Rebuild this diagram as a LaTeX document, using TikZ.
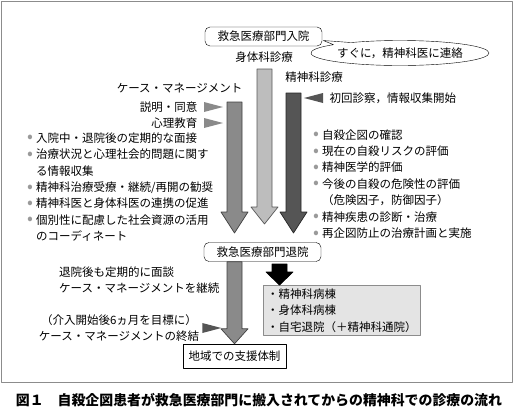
\documentclass[tikz,border=0pt]{standalone}
\usepackage{fontspec}
\setmainfont{Noto Sans CJK JP}
\usetikzlibrary{calc, shapes.callouts}

\definecolor{midgray}{HTML}{8A8A8A}
\definecolor{palegray}{HTML}{BDBDBD}
\definecolor{deepgray}{HTML}{555555}
\definecolor{boxgray}{HTML}{E4E4E4}
\definecolor{framegray}{HTML}{8C8C8C}
\definecolor{bulgray}{HTML}{9A9A9A}

\newcommand{\bul}{\makebox[9pt][l]{\textcolor{bulgray}{\raisebox{-0.6pt}{\scalebox{1.5}{•}}}}}
\newcommand{\nob}{\hspace*{9pt}}

% fat vertical arrow: style, start, tip, head length
\newcommand{\fatarrow}[4]{%
  \draw[#1] let \p1=(#2), \p2=(#3) in
    (\x1-7.5pt,\y1) -- (\x1-7.5pt,\y2+#4) -- (\x1-13.5pt,\y2+#4) -- (\x1,\y2)
    -- (\x1+13.5pt,\y2+#4) -- (\x1+7.5pt,\y2+#4) -- (\x1+7.5pt,\y1) -- cycle;}
% small pointers next to a label
\newcommand{\tipright}[2]{\fill[#1] ($(#2.east)+(3,-5)$) -- ++(19,5) -- ++(-19,5) -- cycle;}
\newcommand{\tipleft}[2]{\fill[#1] ($(#2.west)+(-3,-5)$) -- ++(-19,5) -- ++(19,5) -- cycle;}

\begin{document}
\begin{tikzpicture}[line cap=round,line join=round,x=1pt,y=-1pt,
    every node/.style={font=\fontsize{11.5}{16.4}\selectfont},
    roundbox/.style={draw=black, rounded corners=5pt, minimum width=117pt, minimum height=19pt, inner sep=0pt},
    plainbox/.style={draw=black, minimum width=103pt, minimum height=24pt, inner sep=0pt},
    graybox/.style={draw=framegray, fill=boxgray, align=left, minimum width=157pt, minimum height=50pt, inner xsep=4pt, text width=149pt},
    bubble/.style={ellipse callout, draw=black, fill=white, minimum width=176pt, minimum height=25pt, inner sep=0pt},
    list/.style={align=left, inner sep=0pt},
    midarrow/.style={draw=black!75, fill=midgray, line width=0.7pt},
    palearrow/.style={draw=black!65, fill=palegray, line width=0.7pt},
    deeparrow/.style={draw=black!85, fill=deepgray, line width=0.7pt},
    blackarrow/.style={draw=black, fill=black, line width=0.7pt},
    ptrmid/.style={fill=midgray},
    ptrdeep/.style={fill=deepgray}]

    \useasboundingbox (0,0) rectangle (515,416);
    % outer frame
    \draw[framegray, line width=0.8pt] (1,1) rectangle (512,382);

    % admission and the phone call
    \node[roundbox] (adm) at (263.5,36.5) {救急医療部門入院};
    \node (phys) at (264,57) {身体科診療};
    \node[bubble, callout absolute pointer={($(adm.east)+(1,4)$)}] (call) at (400,53) {すぐに，精神科医に連絡};

    % three streams
    \node[anchor=east] (cm) at (246,88) {ケース・マネージメント};
    \node (psy) at (314,77) {精神科診療};
    \node[anchor=east] (expl) at (201,107) {説明・同意};
    \node[anchor=east] (edu) at (201,123) {心理教育};
    \node[anchor=west] (first) at (326,98) {初回診察，情報収集開始};

    \coordinate (cmtop) at (234.5,102);
    \coordinate (cmtip) at (234.5,233);
    \coordinate (phtop) at (264.5,69);
    \coordinate (phtip) at (264.5,224);
    \coordinate (pstop) at (293.5,93);
    \coordinate (pstip) at (293.5,233);
    \fatarrow{midarrow}{cmtop}{cmtip}{21pt}
    \fatarrow{palearrow}{phtop}{phtip}{17pt}
    \fatarrow{deeparrow}{pstop}{pstip}{21pt}

    \tipright{ptrmid}{expl}
    \tipright{ptrmid}{edu}
    \tipleft{ptrdeep}{first}

    \node[list, anchor=west] (cmlist) at (27,187) {%
        \bul 入院中・退院後の定期的な面接\\
        \bul 治療状況と心理社会的問題に関す\\
        \nob る情報収集\\
        \bul 精神科治療受療・継続/再開の勧奨\\
        \bul 精神科医と身体科医の連携の促進\\
        \bul 個別性に配慮した社会資源の活用\\
        \nob のコーディネート};
    \node[list, anchor=west] (psylist) at (313,184) {%
        \bul 自殺企図の確認\\
        \bul 現在の自殺リスクの評価\\
        \bul 精神医学的評価\\
        \bul 今後の自殺の危険性の評価\\
        \nob （危険因子，防御因子）\\
        \bul 精神疾患の診断・治療\\
        \bul 再企図防止の治療計画と実施};

    % discharge
    \node[roundbox] (out) at (262.5,252) {救急医療部門退院};
    \node[graybox, anchor=north west] (dest) at (263,285) {・精神科病棟\\・身体科病棟\\・自宅退院（＋精神科通院）};
    \coordinate (blk) at (279.5,264);
    \fatarrow{blackarrow}{blk}{blk |- dest.north}{13pt}

    \node[list, anchor=west] (cont) at (59,280) {退院後も定期的に面談\\ケース・マネージメントを継続};
    \node[list, align=center] (end) at (119,328) {（介入開始後6ヵ月を目標に）\\ケース・マネージメントの終結};
    \node[plainbox] (com) at (234.5,356) {地域での支援体制};
    \fatarrow{midarrow}{cmtop |- out.south}{cmtop |- com.north}{15pt}
    \tipright{ptrdeep}{end}

    % caption
    \node[font=\fontsize{13.9}{16}\selectfont\bfseries] (cap) at (259,400) {図１　自殺企図患者が救急医療部門に搬入されてからの精神科での診療の流れ};

\end{tikzpicture}
\end{document}
